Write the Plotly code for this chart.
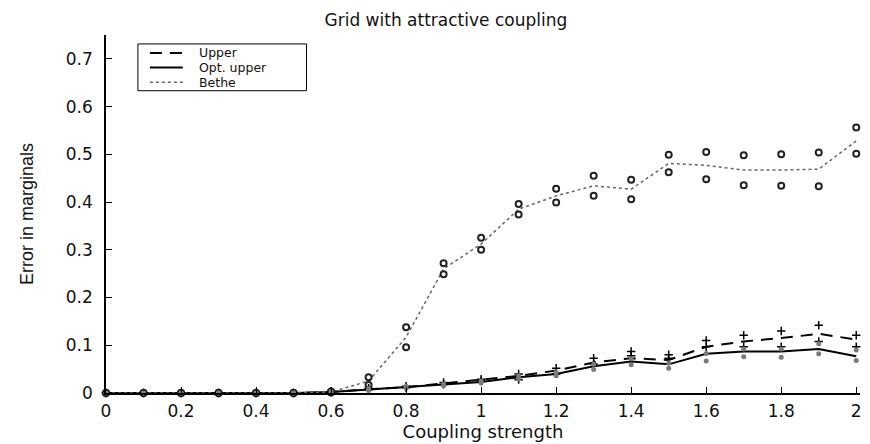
import plotly.graph_objects as go

coupling = [0.0, 0.1, 0.2, 0.3, 0.4, 0.5, 0.6, 0.7, 0.8, 0.9, 1.0,
            1.1, 1.2, 1.3, 1.4, 1.5, 1.6, 1.7, 1.8, 1.9, 2.0]

upper = [0, 0, 0, 0, 0, 0, 0.002, 0.008, 0.012, 0.02, 0.027,
         0.036, 0.047, 0.064, 0.073, 0.069, 0.097, 0.108, 0.115, 0.124, 0.112]
upper_hi = [0, 0, 0, 0, 0, 0, 0.003, 0.010, 0.014, 0.022, 0.029,
            0.040, 0.052, 0.073, 0.087, 0.080, 0.110, 0.121, 0.130, 0.142, 0.121]
upper_lo = [0, 0, 0, 0, 0, 0, 0.002, 0.007, 0.011, 0.018, 0.025,
            0.028, 0.040, 0.061, 0.078, 0.073, 0.097, 0.097, 0.097, 0.108, 0.097]

opt_upper = [0, 0, 0, 0, 0, 0, 0.002, 0.007, 0.012, 0.017, 0.023,
             0.033, 0.040, 0.056, 0.066, 0.060, 0.082, 0.087, 0.087, 0.092, 0.077]
opt_hi = [0, 0, 0, 0, 0, 0, 0.003, 0.009, 0.014, 0.019, 0.025,
          0.036, 0.044, 0.060, 0.072, 0.063, 0.083, 0.092, 0.092, 0.103, 0.090]
opt_lo = [0, 0, 0, 0, 0, 0, 0.001, 0.005, 0.010, 0.015, 0.021,
          0.030, 0.036, 0.049, 0.059, 0.052, 0.067, 0.076, 0.075, 0.082, 0.068]

bethe = [0, 0, 0, 0, 0, 0, 0.002, 0.025, 0.117, 0.26, 0.312,
         0.385, 0.413, 0.434, 0.427, 0.481, 0.477, 0.467, 0.467, 0.469, 0.528]
bethe_hi = [0, 0, 0, 0, 0, 0, 0.003, 0.033, 0.1375, 0.272, 0.325,
            0.396, 0.428, 0.455, 0.447, 0.499, 0.505, 0.498, 0.500, 0.504, 0.556]
bethe_lo = [0, 0, 0, 0, 0, 0, 0.001, 0.017, 0.096, 0.249, 0.300,
            0.374, 0.399, 0.413, 0.406, 0.4625, 0.448, 0.435, 0.434, 0.433, 0.501]

series_names = ["Upper", "Opt. upper", "Bethe"]

x_ticks = [0, 0.2, 0.4, 0.6, 0.8, 1, 1.2, 1.4, 1.6, 1.8, 2]
x_tick_labels = ["0", "0.2", "0.4", "0.6", "0.8", "1", "1.2", "1.4", "1.6", "1.8", "2"]
y_ticks = [0, 0.1, 0.2, 0.3, 0.4, 0.5, 0.6, 0.7]
y_tick_labels = ["0", "0.1", "0.2", "0.3", "0.4", "0.5", "0.6", "0.7"]

FONT = "DejaVu Sans, Liberation Sans, sans-serif"
NARROW = "Liberation Sans Narrow, Liberation Sans, sans-serif"
INK = "#111111"

styles = [
    dict(color="black", width=2, dash="12px,8px"),
    dict(color="black", width=2),
    dict(color="#666666", width=1.5, dash="dot"),
]
values = [upper, opt_upper, bethe]

fig = go.Figure()

for name, ys, st in zip(series_names, values, styles):
    fig.add_trace(go.Scatter(x=coupling, y=ys, mode="lines", name=name,
                             line=st, showlegend=False, cliponaxis=False))

# bound markers
for ys in (bethe_hi, bethe_lo):
    fig.add_trace(go.Scatter(x=coupling, y=ys, mode="markers", showlegend=False,
                             cliponaxis=False,
                             marker=dict(symbol="circle-open", size=6, color="#222222",
                                         line=dict(width=2, color="#222222"))))
for ys in (upper_hi, upper_lo):
    fig.add_trace(go.Scatter(x=coupling, y=ys, mode="markers", showlegend=False,
                             cliponaxis=False,
                             marker=dict(symbol="cross-thin-open", size=6, color="black",
                                         line=dict(width=1.5, color="black"))))
for ys in (opt_hi, opt_lo):
    fig.add_trace(go.Scatter(x=coupling, y=ys, mode="markers", showlegend=False,
                             cliponaxis=False,
                             marker=dict(symbol="circle", size=5, color="#7a7a7a")))

# hand-drawn legend box (tight row spacing like the original)
shapes = [dict(type="rect", xref="paper", yref="paper",
               x0=0.0423, x1=0.2659, y0=0.8444, y1=0.9750,
               line=dict(color="black", width=1), fillcolor="white", layer="above")]
annotations = []
row_y = [0.9500, 0.9090, 0.8680]
for name, st, ry in zip(series_names, styles, row_y):
    shapes.append(dict(type="line", xref="paper", yref="paper",
                       x0=0.0582, x1=0.1019, y0=ry, y1=ry,
                       line=dict(color=st["color"], width=st["width"],
                                 dash=st.get("dash", "solid")),
                       layer="above"))
    annotations.append(dict(text=name, xref="paper", yref="paper",
                            x=0.1217, y=ry, xanchor="left", yanchor="middle",
                            showarrow=False, borderpad=0,
                            font=dict(size=12.5, family=FONT, color=INK)))

fig.update_layout(
    width=862, height=436,
    margin=dict(l=98, r=8, t=27, b=49),
    paper_bgcolor="white", plot_bgcolor="white",
    font=dict(family=FONT, color=INK),
    title=dict(text="Grid with attractive coupling", x=0.508, xref="container",
               xanchor="center", y=0.972, yref="container", yanchor="middle",
               font=dict(size=17, family=FONT, color=INK)),
    shapes=shapes,
    annotations=annotations,
    showlegend=False,
)

fig.update_xaxes(range=[0, 2.01], tickvals=x_ticks, ticktext=x_tick_labels,
                 showgrid=False, zeroline=False, showline=True, linecolor="black",
                 linewidth=1.5, ticks="inside", ticklen=6, tickcolor="black",
                 tickfont=dict(size=17, family=FONT), ticklabelstandoff=2,
                 title=dict(text="Coupling strength", font=dict(size=18, family=FONT),
                            standoff=2))
fig.update_yaxes(range=[0, 0.75], tickvals=y_ticks, ticktext=y_tick_labels,
                 showgrid=False, zeroline=False, showline=True, linecolor="black",
                 linewidth=1.5, ticks="inside", ticklen=6, tickcolor="black",
                 tickfont=dict(size=17, family=FONT), ticklabelstandoff=8,
                 title=dict(text="Error in marginals", font=dict(size=18, family=NARROW),
                            standoff=28))

fig.write_html("out.html")
